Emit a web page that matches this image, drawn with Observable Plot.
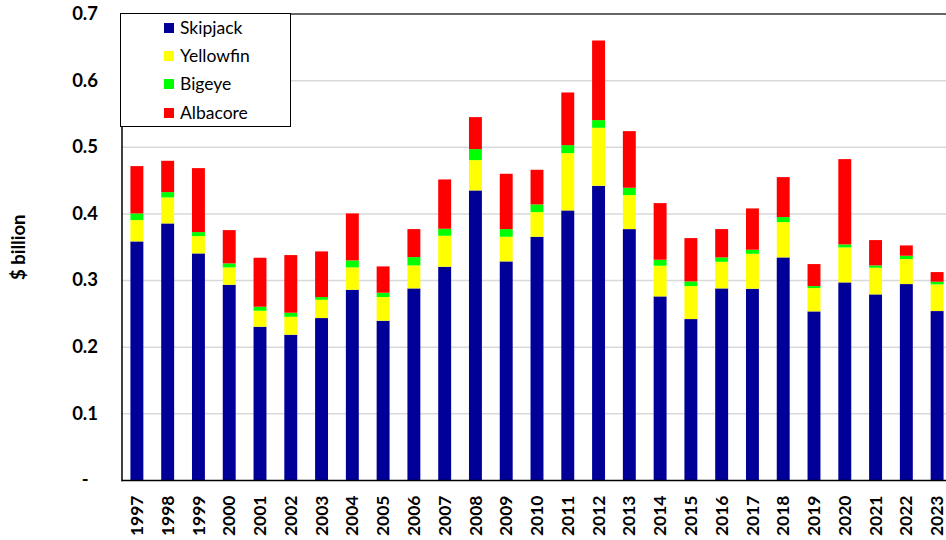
<!DOCTYPE html>
<html>
<head>
<meta charset="utf-8">
<script src="https://cdn.jsdelivr.net/npm/d3@7"></script>
<script src="https://cdn.jsdelivr.net/npm/@observablehq/plot@0.6"></script>
<style>
  html, body { margin: 0; padding: 0; background: #fff; overflow: hidden; }
  #wrap { position: relative; width: 946px; height: 540px; }
  #legend {
    position: absolute; left: 120px; top: 13px; width: 171px; height: 114px;
    border: 1.5px solid #000; background: #fff; box-sizing: border-box;
    font-family: Lato, "Open Sans", sans-serif; font-size: 17.5px; color: #000;
  }
  .item { position: absolute; left: 43px; height: 20px; display: flex; align-items: center; }
  .sw { width: 10px; height: 10px; margin-right: 6px; }
</style>
</head>
<body>
<div id="wrap"><div id="legend"></div></div>
<script>
const years = [1997,1998,1999,2000,2001,2002,2003,2004,2005,2006,2007,2008,2009,2010,2011,2012,2013,2014,2015,2016,2017,2018,2019,2020,2021,2022,2023];
const skipjack  = [0.358,0.385,0.340,0.293,0.230,0.218,0.243,0.2855,0.239,0.2875,0.320,0.4345,0.328,0.365,0.4045,0.4415,0.3765,0.2755,0.2415,0.2875,0.287,0.334,0.253,0.2965,0.2785,0.294,0.2535];
const yellowfin = [0.032,0.039,0.026,0.026,0.024,0.027,0.0275,0.0335,0.0355,0.0345,0.0465,0.0455,0.037,0.037,0.086,0.087,0.051,0.046,0.0495,0.040,0.0525,0.053,0.035,0.0525,0.040,0.0375,0.040];
const bigeye    = [0.010,0.008,0.006,0.006,0.006,0.006,0.004,0.0105,0.0065,0.0125,0.0105,0.0165,0.0115,0.0115,0.012,0.0115,0.011,0.009,0.007,0.0065,0.006,0.0075,0.003,0.0045,0.0035,0.005,0.004];
const albacore  = [0.071,0.047,0.096,0.050,0.0735,0.0865,0.0685,0.0705,0.0395,0.042,0.074,0.048,0.083,0.052,0.079,0.1195,0.085,0.085,0.065,0.0425,0.062,0.060,0.033,0.128,0.038,0.0155,0.0145];
const species = ["Skipjack","Yellowfin","Bigeye","Albacore"];
const colors  = ["#000099","#FFFF00","#00FF00","#FF0000"];
const yTicks  = [0,0.1,0.2,0.3,0.4,0.5,0.6,0.7];

const series = [skipjack, yellowfin, bigeye, albacore];
const data = [];
years.forEach((yr, i) => species.forEach((s, j) => data.push({year: String(yr), species: s, value: series[j][i]})));

const font = "Lato, 'Open Sans', sans-serif";
const chart = Plot.plot({
  width: 946,
  height: 540,
  marginLeft: 121.5,
  marginRight: -6.5,
  marginTop: 13.5,
  marginBottom: 60,
  style: {fontFamily: font, fontSize: "17px", fontWeight: "bold", color: "#000", background: "#fff", overflow: "visible"},
  x: {domain: years.map(String), paddingInner: 0.58, paddingOuter: 0.29, align: 0.5, round: false},
  y: {domain: [0, 0.7]},
  color: {domain: species, range: colors},
  marks: [
    Plot.ruleY(yTicks.filter(d => d > 0 && d < 0.7), {stroke: "#d9d9d9", strokeWidth: 1.5}),
    Plot.barY(data, {x: "year", y: "value", fill: "species", order: species}),
    Plot.ruleY([0.7], {stroke: "#333", strokeWidth: 1.5}),
    Plot.ruleY([0], {stroke: "#000", strokeWidth: 1.5}),
    Plot.frame({anchor: "left", stroke: "#000", strokeWidth: 1.5}),
    Plot.axisY(yTicks, {tickSize: 0, tickPadding: 24, tickFormat: d => d === 0 ? "-\u2002" : d3.format(".1f")(d),
      fontSize: 18.5, fontWeight: "bold", label: "$ billion", labelAnchor: "center", labelOffset: 110, labelArrow: "none"}),
    Plot.axisX({tickSize: 0, tickPadding: 15, tickRotate: -90, fontSize: 17.5, fontWeight: "bold", label: null})
  ]
});
document.getElementById("wrap").prepend(chart);

const legend = document.getElementById("legend");
const rowY = [15, 43, 71, 100];
species.forEach((s, i) => {
  const div = document.createElement("div");
  div.className = "item";
  div.style.top = (rowY[i] - 10 - 1.5) + "px";
  div.innerHTML = `<span class="sw" style="background:${colors[i]}"></span><span>${s}</span>`;
  legend.appendChild(div);
});
</script>
</body>
</html>
